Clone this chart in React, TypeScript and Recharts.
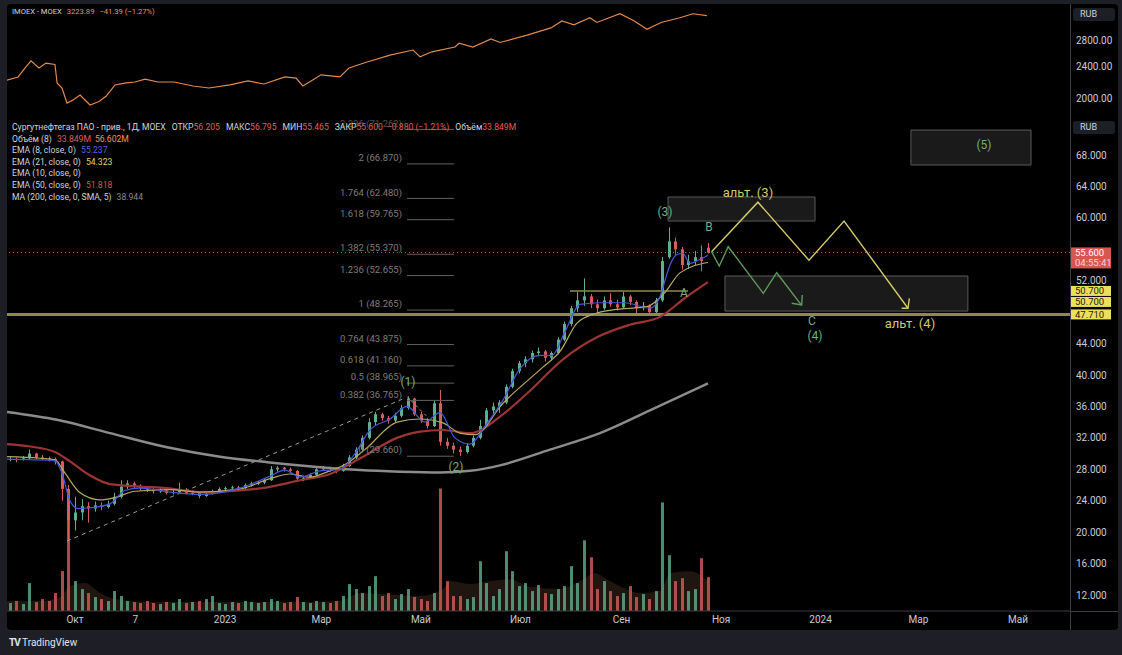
import React from "react";
import {
  ComposedChart,
  Line,
  Bar,
  Area,
  XAxis,
  YAxis,
  ReferenceLine,
  ReferenceArea,
  ReferenceDot,
} from "recharts";

// days counted from 1 Oct 2022
const X_DOMAIN: [number, number] = [-41.7, 609.9];
const timeTicks = [0, 37, 92, 151, 212, 273, 335, 396, 457, 517, 578];
const timeLabels = ["Окт", "7", "2023", "Мар", "Май", "Июл", "Сен", "Ноя", "2024", "Мар", "Май"];
const priceTicks = [12, 16, 20, 24, 28, 32, 36, 40, 44, 52, 60, 64, 68];
const imoexTicks = [2000, 2400, 2800];

const candleDays = [
  -40, -36, -32, -28, -24, -20, -16, -12, -8, -4, 0, 4, 8, 12, 16, 20, 24, 28, 32, 36,
  40, 44, 48, 52, 56, 60, 64, 68, 72, 76, 80, 84, 88, 92, 96, 100, 104, 108, 112, 116,
  120, 124, 128, 132, 136, 140, 144, 148, 152, 156, 160, 164, 168, 172, 176, 180, 184, 188, 192, 196,
  200, 204, 208, 212, 216, 220, 224, 228, 232, 236, 240, 244, 248, 252, 256, 260, 264, 268, 272, 276,
  280, 284, 288, 292, 296, 300, 304, 308, 312, 316, 320, 324, 328, 332, 336, 340, 344, 348, 352, 356,
  360, 364, 368, 372, 376, 380, 384, 388,
];
const opens = [
  29.2, 29.3, 29.2, 29.4, 30.0, 29.5, 29.4, 29.3, 29.0, 25.5,
  21.5, 22.5, 23.3, 23.0, 23.4, 23.2, 23.6, 24.5, 25.8, 26.2,
  25.9, 25.6, 25.4, 25.2, 25.3, 25.0, 25.1, 25.4, 25.0, 25.0,
  24.6, 24.9, 25.2, 25.5, 25.6, 25.7, 25.6, 26.0, 26.2, 26.3,
  26.6, 28.0, 28.2, 28.0, 27.8, 26.8, 26.9, 27.3, 28.0, 28.2,
  28.0, 27.8, 28.4, 29.5, 30.5, 32.0, 34.0, 35.0, 34.5, 34.2,
  34.8, 35.8, 37.0, 35.0, 34.2, 33.5, 36.4, 31.5, 31.0, 30.5,
  30.2, 31.0, 32.0, 33.5, 35.5, 36.0, 36.5, 38.5, 40.5, 41.5,
  42.0, 42.8, 43.0, 42.2, 42.8, 44.5, 46.5, 48.5, 49.5, 50.0,
  49.0, 48.5, 49.5, 49.0, 48.6, 50.0, 49.3, 48.5, 48.8, 48.0,
  49.5, 55.0, 57.0, 56.0, 54.0, 54.5, 55.0, 56.205,
];
const highs = [
  29.6, 29.5, 29.7, 30.5, 30.1, 29.8, 29.6, 29.5, 29.1, 26.0,
  24.5, 24.2, 23.8, 23.9, 23.8, 24.0, 25.0, 26.6, 26.6, 26.4,
  26.1, 25.9, 25.6, 25.6, 25.5, 25.4, 26.3, 25.6, 25.3, 25.1,
  25.1, 25.4, 25.7, 25.8, 25.9, 25.9, 26.2, 26.4, 26.5, 26.9,
  28.4, 28.4, 28.3, 28.2, 27.9, 27.2, 27.5, 28.2, 28.4, 28.3,
  28.1, 28.7, 29.8, 30.8, 32.3, 34.5, 35.3, 35.2, 34.8, 35.2,
  36.2, 37.3, 37.1, 35.3, 34.5, 36.8, 38.1, 32.0, 31.4, 30.9,
  31.3, 32.3, 34.3, 35.8, 36.5, 36.8, 38.8, 40.8, 41.8, 42.4,
  43.1, 43.5, 43.2, 43.0, 44.8, 46.8, 48.8, 50.6, 52.3, 50.3,
  49.6, 50.0, 50.4, 49.6, 50.6, 50.2, 49.5, 49.3, 49.0, 49.8,
  55.0, 58.8, 57.5, 56.3, 55.3, 55.8, 56.5, 56.795,
];
const lows = [
  29.0, 28.9, 29.1, 29.3, 29.3, 29.2, 29.0, 28.6, 24.0, 18.9,
  20.2, 21.5, 21.2, 22.6, 22.8, 23.0, 23.4, 24.3, 25.5, 25.6,
  25.3, 25.1, 24.9, 25.0, 24.8, 24.8, 25.0, 24.8, 24.7, 24.3,
  24.5, 24.8, 25.0, 25.3, 25.4, 25.3, 25.5, 25.8, 26.0, 26.1,
  26.5, 27.7, 27.7, 27.5, 26.4, 26.5, 26.8, 27.2, 27.8, 27.7,
  27.5, 27.7, 28.3, 29.3, 30.2, 31.8, 33.6, 34.2, 33.8, 34.0,
  34.6, 35.6, 34.8, 33.9, 33.2, 33.4, 31.0, 30.6, 30.0, 29.7,
  30.0, 30.8, 31.8, 33.3, 35.0, 35.2, 36.3, 38.3, 40.2, 41.0,
  41.6, 42.4, 41.7, 41.9, 42.6, 44.3, 46.2, 48.0, 48.8, 48.5,
  47.9, 48.3, 48.7, 48.2, 48.4, 48.9, 47.8, 48.2, 47.6, 47.9,
  49.3, 54.8, 55.3, 53.4, 53.5, 54.0, 53.2, 55.465,
];
const closes = [
  29.3, 29.2, 29.4, 30.0, 29.5, 29.4, 29.3, 29.0, 25.5, 21.5,
  22.5, 23.3, 23.0, 23.4, 23.2, 23.6, 24.5, 25.8, 26.2, 25.9,
  25.6, 25.4, 25.2, 25.3, 25.0, 25.1, 25.4, 25.0, 25.0, 24.6,
  24.9, 25.2, 25.5, 25.6, 25.7, 25.6, 26.0, 26.2, 26.3, 26.6,
  28.0, 28.2, 28.0, 27.8, 26.8, 26.9, 27.3, 28.0, 28.2, 28.0,
  27.8, 28.4, 29.5, 30.5, 32.0, 34.0, 35.0, 34.5, 34.2, 34.8,
  35.8, 37.0, 35.0, 34.2, 33.5, 36.4, 31.5, 31.0, 30.5, 30.2,
  31.0, 32.0, 33.5, 35.5, 36.0, 36.5, 38.5, 40.5, 41.5, 42.0,
  42.8, 43.0, 42.2, 42.8, 44.5, 46.5, 48.5, 49.5, 50.0, 49.0,
  48.5, 49.5, 49.0, 48.6, 50.0, 49.3, 48.5, 48.8, 48.0, 49.5,
  54.5, 57.0, 56.0, 54.0, 54.5, 55.0, 54.5, 55.6,
];
// volume, millions
const volumes = [
  8, 10, 7, 28, 9, 12, 10, 18, 40, 95,
  30, 22, 18, 14, 12, 10, 20, 15, 10, 9,
  8, 10, 8, 7, 9, 8, 12, 8, 9, 10,
  12, 15, 8, 7, 9, 8, 10, 9, 8, 9,
  12, 10, 8, 9, 14, 9, 8, 10, 9, 8,
  10, 15, 27, 22, 18, 25, 35, 15, 18, 12,
  17, 22, 14, 12, 10, 18, 123, 30, 15, 15,
  12, 14, 50, 28, 15, 22, 60, 40, 25, 28,
  20, 26, 18, 17, 22, 25, 45, 28, 71, 54,
  22, 30, 20, 15, 18, 25, 14, 17, 12, 20,
  109, 56, 30, 33, 20, 22, 53, 34,
];
const volMa = [
  [-41.7, 10], [-21.5, 10], [-9.2, 14], [-3.1, 25], [6.1, 28], [15.3, 18], [24.5, 12], [46, 9],
  [76.6, 9], [113.4, 9], [137.9, 9], [162.4, 10], [174.7, 18], [186.9, 17], [211.5, 15],
  [225.6, 22], [229.8, 30], [242.1, 27], [254.4, 30], [266.6, 32], [278.9, 24], [297.3, 22],
  [309.5, 30], [318.7, 38], [327.9, 30], [346.3, 18], [358.6, 20], [364.7, 38], [376.9, 40], [388, 30],
];

const ema8 = [
  [-41.7, 29.3], [-12.3, 29.1], [-8, 27.5], [-3.1, 24.0], [1.8, 23.0], [9.2, 23.1], [21.5, 23.6],
  [30.6, 25.3], [39.8, 25.6], [58.2, 25.1], [76.6, 24.8], [101.1, 25.6], [118.3, 27.0], [128.7, 27.9],
  [137.9, 27.0], [150.2, 27.8], [162.4, 28.0], [171.6, 30.0], [180.8, 33.0], [193.1, 34.4],
  [203.5, 36.0], [214.5, 34.0], [223.7, 35.2], [232.9, 32.0], [242.1, 31.2], [251.3, 33.5],
  [262.3, 36.8], [272.7, 40.8], [285, 42.5], [292.4, 42.5], [300.3, 45.5], [309.5, 49.0],
  [321.8, 49.2], [337.1, 49.2], [352.4, 48.5], [358.6, 50.0], [361.6, 52.0], [364.7, 54.0],
  [368.7, 55.3], [372.5, 55.5], [377, 54.2], [382, 54.6], [388, 55.24],
];
const ema21 = [
  [-41.7, 29.6], [-21.5, 29.4], [-12.3, 29.2], [-6.1, 27.5], [3.1, 25.0], [15.3, 24.1], [24.5, 24.4],
  [36.8, 25.2], [58.2, 25.4], [76.6, 25.1], [101.1, 25.5], [119.5, 26.8], [131.8, 27.4], [144, 27.0],
  [156.3, 27.8], [165.5, 28.6], [177.7, 30.5], [197.4, 34.0], [211.5, 34.4], [225.6, 33.9],
  [236, 32.6], [245.2, 32.4], [262.3, 36.4], [286.8, 41.0], [297.3, 43.0], [307.7, 46.6],
  [318.7, 47.8], [329.8, 48.3], [350.6, 48.7], [361.6, 50.5], [370.8, 53.0], [388, 54.32],
];
const ema50 = [
  [-41.7, 31.2], [-27.6, 30.9], [-12.3, 30.2], [-3.1, 29.0], [9.2, 27.2], [21.5, 26.1], [39.8, 25.8],
  [56.4, 25.6], [76.6, 25.1], [101.1, 25.3], [117.7, 25.7], [137.9, 26.6], [156.3, 27.4],
  [176.5, 29.6], [197.4, 32.0], [211.5, 32.8], [225.6, 33.0], [242.1, 32.6], [262.3, 35.0],
  [278.9, 38.0], [299.1, 42.0], [319.9, 44.8], [340.2, 46.4], [358.6, 47.4], [373.9, 49.8], [388, 51.82],
];
const ma200 = [
  [-41.7, 35.3], [-11, 34.3], [21.5, 32.6], [56.4, 30.8], [88.9, 29.6], [117.7, 28.9], [148.3, 28.3],
  [174.7, 27.9], [199.2, 27.7], [223.7, 27.6], [242.1, 27.8], [260.5, 28.5], [291.1, 30.5],
  [321.8, 32.6], [352.4, 35.5], [388, 38.94],
];
const imoex = [
  [-41.7, 2218], [-34.9, 2260], [-30.6, 2382], [-27, 2481], [-22.1, 2380], [-17.8, 2450], [-12.3, 2430],
  [-11, 2183], [-8, 2120], [-4.9, 1943], [-1.2, 1978], [3.1, 2036], [6.1, 1978], [9.2, 1921],
  [14.7, 1960], [19, 2020], [24.5, 2158], [31.3, 2183], [36.8, 2195], [42.9, 2232], [50.9, 2195],
  [60.7, 2195], [72.3, 2145], [82.1, 2120], [95, 2158], [106, 2210], [115.8, 2170], [128.7, 2260],
  [135.5, 2245], [139.7, 2145], [150.8, 2288], [162.4, 2260], [167.9, 2380], [179, 2465],
  [193.1, 2566], [207.2, 2642], [211.5, 2540], [218.8, 2615], [232.9, 2688], [235.4, 2748],
  [243.9, 2688], [255, 2817], [260.5, 2760], [277.6, 2884], [291.7, 3003], [298.5, 3128],
  [305.8, 3057], [315.6, 3185], [319.9, 3100], [334, 3260], [342.6, 3130], [350.6, 2980],
  [359.2, 3100], [370.8, 3185], [378.7, 3260], [387.3, 3224],
];

// fibonacci extension levels
const fibRatios = ["2.236", "2", "1.764", "1.618", "1.382", "1.236", "1", "0.764", "0.618", "0.5", "0.382", "0"];
const fibPrices = [71.262, 66.87, 62.48, 59.765, 55.37, 52.655, 48.265, 43.875, 41.16, 38.965, 36.765, 29.66];
const FIB_X = [203.5, 232.3];

// wave paths
const trendLine = [[-4.9, 18.87], [202.3, 37.07]];
const wave1Drop = [[203.6, 37.24], [215.8, 34.7]];
const altPath = [[390.2, 55.69], [418.6, 62.0], [449.9, 54.6], [471.4, 59.6], [510.6, 48.5]];
const altHead = [[506.7, 48.49], [510.6, 48.5], [511.4, 49.76]];
const mainPath = [[390.2, 55.69], [394.9, 53.87], [400.4, 56.33], [421.9, 50.4], [430.1, 53.02], [445.4, 48.87]];
const mainHead = [[439.3, 49.13], [445.4, 48.91], [445.8, 50.18]];

// boxes: day1, day2, price1, price2
const boxes = [
  [512.4, 586, 66.73, 71.18],
  [363.5, 453.6, 59.6, 62.66],
  [398.4, 547.3, 48.14, 52.6],
];
const GREEN = "#72ad7c";
const YELLOW = "#d2ca6a";
const waveLabels = [
  ["(1)", 204.1, 39.11, GREEN, 12],
  ["(2)", 233.5, 28.29, GREEN, 12],
  ["(3)", 361.6, 60.75, GREEN, 12],
  ["B", 388.6, 58.84, GREEN, 12],
  ["A", 373.3, 50.44, GREEN, 12],
  ["C", 451.7, 46.87, GREEN, 12],
  ["(4)", 453.6, 44.96, GREEN, 12],
  ["(5)", 557.2, 69.27, GREEN, 12],
  ["альт. (3)", 412.5, 63.29, YELLOW, 13],
  ["альт. (4)", 511.8, 46.62, YELLOW, 13],
] as const;

const UP = "#5fae8f";
const DOWN = "#d85c5c";

const candles = candleDays.map((day, i) => ({
  day,
  open: opens[i],
  high: highs[i],
  low: lows[i],
  close: closes[i],
  vol: volumes[i],
}));
const pts = (arr: number[][]) => arr.map(([day, v]) => ({ day, v }));

function Candle(p: any) {
  const { x, width, payload } = p;
  if (!payload) return null;
  const top = Math.min(p.y, p.y + p.height);
  const h = Math.abs(p.height);
  const k = h / (payload.high - payload.low || 1);
  const cx = Math.round(x + width / 2) + 0.5;
  const yO = top + (payload.high - payload.open) * k;
  const yC = top + (payload.high - payload.close) * k;
  const col = payload.close >= payload.open ? UP : DOWN;
  return (
    <g>
      <line x1={cx} x2={cx} y1={top} y2={top + h} stroke={col} strokeWidth={1} />
      <rect x={cx - 1.5} y={Math.min(yO, yC)} width={3} height={Math.max(1, Math.abs(yC - yO))} fill={col} />
    </g>
  );
}

function VolBar(p: any) {
  const { x, width, payload } = p;
  if (!payload) return null;
  const top = Math.min(p.y, p.y + p.height);
  const h = Math.abs(p.height);
  const cx = Math.round(x + width / 2);
  const col = payload.close >= payload.open ? UP : DOWN;
  return <rect x={cx - 1} y={top} width={3} height={h} fill={col} fillOpacity={0.8} />;
}

function Tag(props: any) {
  const { viewBox, items } = props;
  if (!viewBox) return null;
  const x = viewBox.x + viewBox.width;
  const y = viewBox.y;
  return (
    <g>
      {items.map((it: any, i: number) => (
        <g key={i}>
          <rect x={x} y={y + it.dy - 5} width={41} height={it.sub ? 21 : 10} fill={it.bg} />
          <text x={x + 5} y={y + it.dy + 3.5} fontSize={9.5} fill={it.fg}>
            {it.text}
          </text>
          {it.sub && (
            <text x={x + 5} y={y + it.dy + 13.5} fontSize={9.5} fill={it.fg} fillOpacity={0.75}>
              {it.sub}
            </text>
          )}
        </g>
      ))}
    </g>
  );
}

const axisTick = { fill: "#c9ccd4", fontSize: 10 };

function ImoexPane() {
  return (
    <ComposedChart width={1111} height={109} data={pts(imoex)} margin={{ top: 0, right: 0, bottom: 0, left: 0 }}>
      <XAxis dataKey="day" type="number" domain={X_DOMAIN} allowDataOverflow hide />
      <YAxis
        orientation="right"
        scale="log"
        domain={[1834, 3450]}
        allowDataOverflow
        ticks={imoexTicks}
        tickFormatter={(v) => Number(v).toFixed(2)}
        width={48}
        axisLine={false}
        tickLine={false}
        tickSize={0}
        tickMargin={6}
        tick={axisTick}
      />
      <Line dataKey="v" type="linear" stroke="#e08a4e" strokeWidth={1.2} dot={false} isAnimationActive={false} />
    </ComposedChart>
  );
}

function VolumePane() {
  return (
    <ComposedChart width={1111} height={517} data={candles} margin={{ top: 0, right: 48, bottom: 19, left: 0 }}>
      <XAxis dataKey="day" type="number" domain={X_DOMAIN} allowDataOverflow hide />
      <YAxis domain={[0, 500]} hide />
      <Area
        data={pts(volMa)}
        dataKey="v"
        type="monotone"
        stroke="none"
        fill="#5c3f2a"
        fillOpacity={0.35}
        isAnimationActive={false}
      />
      <Bar dataKey="vol" barSize={3} shape={VolBar} isAnimationActive={false} />
    </ComposedChart>
  );
}

function PricePane() {
  return (
    <ComposedChart width={1111} height={517} data={candles} margin={{ top: 0, right: 0, bottom: 0, left: 0 }}>
      <XAxis
        dataKey="day"
        type="number"
        domain={X_DOMAIN}
        allowDataOverflow
        ticks={timeTicks}
        interval={0}
        tickFormatter={(v) => timeLabels[timeTicks.indexOf(v)] ?? ""}
        height={19}
        axisLine={{ stroke: "#3a3d45" }}
        tickLine={false}
        tickSize={0}
        tickMargin={5}
        tick={axisTick}
      />
      <YAxis
        orientation="right"
        domain={[9.96, 73.35]}
        allowDataOverflow
        ticks={priceTicks}
        tickFormatter={(v) => Number(v).toFixed(3)}
        width={48}
        axisLine={false}
        tickLine={false}
        tickSize={0}
        tickMargin={6}
        tick={axisTick}
      />

      {boxes.map(([x1, x2, y1, y2], i) => (
        <ReferenceArea
          key={"b" + i}
          x1={x1}
          x2={x2}
          y1={y1}
          y2={y2}
          fill="#4a4a4a"
          fillOpacity={0.35}
          stroke="#5a5a5a"
          strokeWidth={1}
        />
      ))}

      {fibPrices.map((p, i) => (
        <ReferenceLine
          key={"fl" + i}
          segment={[
            { x: FIB_X[0], y: p },
            { x: FIB_X[1], y: p },
          ]}
          stroke="#606060"
          strokeWidth={1}
        />
      ))}
      {fibPrices.map((p, i) => (
        <ReferenceDot
          key={"ft" + i}
          x={FIB_X[0]}
          y={p + 0.78}
          r={1}
          fill="none"
          stroke="none"
          label={{
            value: `${fibRatios[i]} (${p.toFixed(3)})`,
            position: "left",
            offset: 4,
            fill: i === 0 ? "#4e4e4e" : "#7c7c7c",
            fontSize: 9.5,
          }}
        />
      ))}

      <ReferenceLine
        segment={trendLine.map(([x, y]) => ({ x, y }))}
        stroke="#9a9a9a"
        strokeDasharray="4 4"
        strokeWidth={1}
      />
      <ReferenceLine
        segment={wave1Drop.map(([x, y]) => ({ x, y }))}
        stroke="#9a9a9a"
        strokeDasharray="3 3"
        strokeWidth={1}
      />

      <ReferenceLine
        y={55.6}
        stroke="#d9554f"
        strokeDasharray="1 3"
        strokeWidth={1}
        label={<Tag items={[{ dy: 0, text: "55.600", sub: "04:55:41", bg: "#d9554f", fg: "#ffffff" }]} />}
      />
      <ReferenceLine
        segment={[
          { x: 303.4, y: 50.7 },
          { x: 375.7, y: 50.7 },
        ]}
        stroke="#8e8a4c"
        strokeWidth={1.5}
      />
      <ReferenceLine
        y={50.7}
        stroke="none"
        label={
          <Tag
            items={[
              { dy: 0, text: "50.700", bg: "#ece05a", fg: "#1a1a1a" },
              { dy: 11, text: "50.700", bg: "#ece05a", fg: "#1a1a1a" },
            ]}
          />
        }
      />
      <ReferenceLine
        y={47.71}
        stroke="#8e8a4c"
        strokeWidth={3}
        label={<Tag items={[{ dy: 0, text: "47.710", bg: "#ece05a", fg: "#1a1a1a" }]} />}
      />

      <Bar dataKey={(d: any) => [d.low, d.high]} barSize={3} shape={Candle} isAnimationActive={false} />

      <Line data={pts(ma200)} dataKey="v" type="monotone" stroke="#8b8b8b" strokeWidth={2.5} dot={false} isAnimationActive={false} />
      <Line data={pts(ema50)} dataKey="v" type="monotone" stroke="#9c3434" strokeWidth={2.2} dot={false} isAnimationActive={false} />
      <Line data={pts(ema21)} dataKey="v" type="monotone" stroke="#b3aa62" strokeWidth={1.2} dot={false} isAnimationActive={false} />
      <Line data={pts(ema8)} dataKey="v" type="monotone" stroke="#4656d8" strokeWidth={1.2} dot={false} isAnimationActive={false} />

      <Line data={pts(altPath)} dataKey="v" type="linear" stroke={YELLOW} strokeWidth={1.4} dot={false} isAnimationActive={false} />
      <Line data={pts(altHead)} dataKey="v" type="linear" stroke={YELLOW} strokeWidth={1.4} dot={false} isAnimationActive={false} />
      <Line data={pts(mainPath)} dataKey="v" type="linear" stroke="#5f9a5c" strokeWidth={1.4} dot={false} isAnimationActive={false} />
      <Line data={pts(mainHead)} dataKey="v" type="linear" stroke="#5f9a5c" strokeWidth={1.4} dot={false} isAnimationActive={false} />

      {waveLabels.map(([t, x, y, c, fs], i) => (
        <ReferenceDot
          key={"w" + i}
          x={x}
          y={y}
          r={1}
          fill="none"
          stroke="none"
          label={{ value: t, position: "center", fill: c, fontSize: fs }}
        />
      ))}
    </ComposedChart>
  );
}

const RED = "#e05d5a";
const LBL = "#d1d4dc";

function Legend() {
  const row = { height: 11.6, whiteSpace: "nowrap" as const };
  return (
    <div style={{ position: "absolute", left: 12, top: 122, fontSize: 8.6, color: LBL, lineHeight: "11.6px" }}>
      <div style={row}>
        Сургутнефтегаз ПАО - прив., 1Д, MOEX<span style={{ marginLeft: 6 }}>ОТКР</span>
        <span style={{ color: RED }}>56.205</span>
        <span style={{ marginLeft: 6 }}>МАКС</span>
        <span style={{ color: RED }}>56.795</span>
        <span style={{ marginLeft: 6 }}>МИН</span>
        <span style={{ color: RED }}>55.465</span>
        <span style={{ marginLeft: 6 }}>ЗАКР</span>
        <span style={{ color: RED }}>55.600</span>
        <span style={{ color: RED, marginLeft: 4 }}>−0.880 (−1.21%)</span>
        <span style={{ marginLeft: 6 }}>Объём</span>
        <span style={{ color: RED }}>33.849M</span>
      </div>
      <div style={row}>
        Объём (8) <span style={{ color: RED, marginLeft: 3 }}>33.849M</span>
        <span style={{ color: "#e8985a", marginLeft: 4 }}>56.602M</span>
      </div>
      <div style={row}>
        EMA (8, close, 0) <span style={{ color: "#5766e0", marginLeft: 3 }}>55.237</span>
      </div>
      <div style={row}>
        EMA (21, close, 0) <span style={{ color: "#e6d36a", marginLeft: 3 }}>54.323</span>
      </div>
      <div style={row}>EMA (10, close, 0)</div>
      <div style={row}>
        EMA (50, close, 0) <span style={{ color: "#d9534f", marginLeft: 3 }}>51.818</span>
      </div>
      <div style={row}>
        MA (200, close, 0, SMA, 5) <span style={{ color: "#8a8a8a", marginLeft: 3 }}>38.944</span>
      </div>
    </div>
  );
}

const rubBox = (top: number) => (
  <div
    style={{
      position: "absolute",
      left: 1073,
      top,
      width: 42,
      height: 13,
      background: "#1d1f27",
      borderRadius: 3,
      color: LBL,
      fontSize: 9,
      lineHeight: "13px",
      paddingLeft: 7,
      boxSizing: "border-box",
    }}
  >
    RUB
  </div>
);

export default function App() {
  return (
    <div
      style={{
        position: "absolute",
        left: 0,
        top: 0,
        width: 1122,
        height: 655,
        background: "#1e1f26",
        overflow: "hidden",
        fontFamily: "Roboto, 'Noto Sans', sans-serif",
      }}
    >
      <div style={{ position: "absolute", left: 7, top: 4, width: 1111, height: 626, background: "#000", borderRadius: 4 }} />
      <div style={{ position: "absolute", left: 7, top: 4 }}>
        <ImoexPane />
      </div>
      <div style={{ position: "absolute", left: 7, top: 113 }}>
        <VolumePane />
      </div>
      <div style={{ position: "absolute", left: 7, top: 113 }}>
        <PricePane />
      </div>
      <div style={{ position: "absolute", left: 1070, top: 4, width: 1, height: 626, background: "#3a3d45" }} />
      <div style={{ position: "absolute", left: 1070, top: 611, width: 48, height: 1, background: "#3a3d45" }} />
      {rubBox(8)}
      {rubBox(121)}
      <div style={{ position: "absolute", left: 12, top: 7, fontSize: 7.6, color: LBL, whiteSpace: "nowrap" }}>
        IMOEX - MOEX<span style={{ color: "#e8925a", marginLeft: 5 }}>3223.89</span>
        <span style={{ color: "#e8925a", marginLeft: 5 }}>−41.39 (−1.27%)</span>
      </div>
      <Legend />
      <div style={{ position: "absolute", left: 9, top: 637, fontSize: 10, color: "#e0e3eb", whiteSpace: "nowrap" }}>
        <b style={{ letterSpacing: -1 }}>TV</b> TradingView
      </div>
    </div>
  );
}
